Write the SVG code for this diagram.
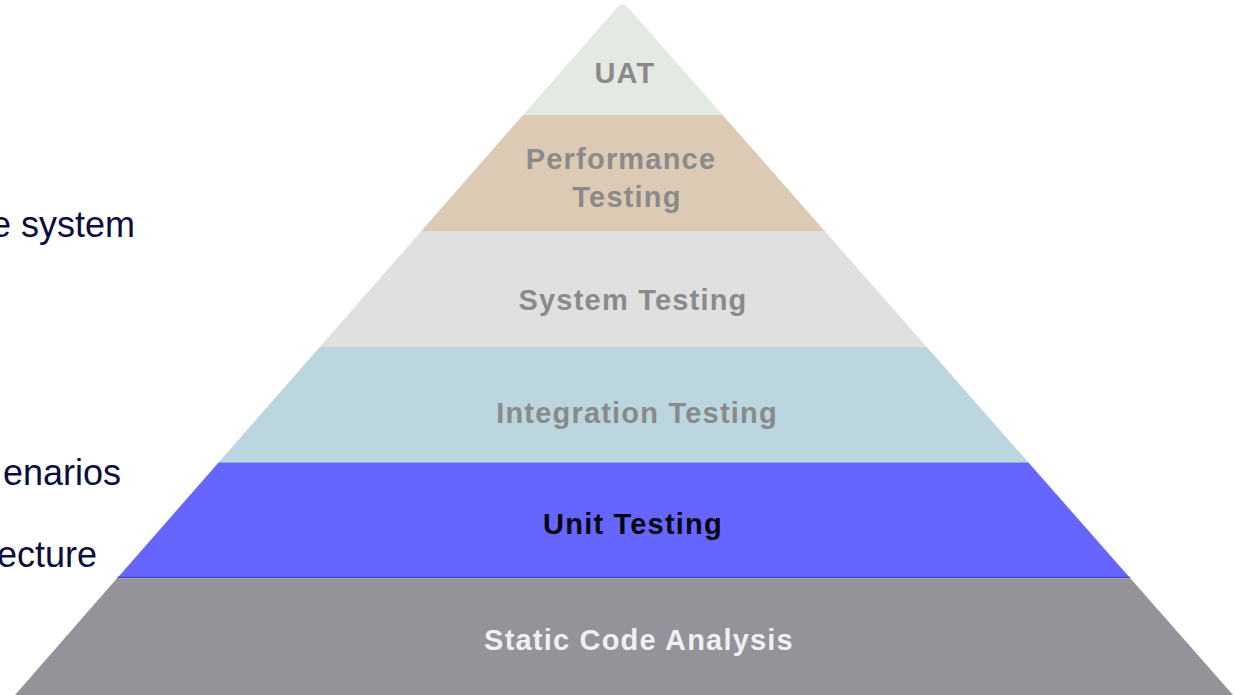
<svg xmlns="http://www.w3.org/2000/svg" width="1235" height="695" viewBox="0 0 1235 695">
  <style>
    .lbl { font-family: "Liberation Sans", Arial, sans-serif; font-weight: bold; font-size: 29px; letter-spacing: 1.2px; text-anchor: middle; }
    .gray { fill: #8a8a8a; }
    .side { font-family: "Liberation Sans", Arial, sans-serif; font-size: 36px; fill: #0c0c3e; text-anchor: end; }
  </style>
  <rect width="1235" height="695" fill="#ffffff"/>
  <g id="side-text">
    <text class="side" x="135" y="237">e system</text>
    <text class="side" x="121" y="485">enarios</text>
    <text class="side" x="97" y="567">ecture</text>
  </g>
  <g id="uat">
    <path d="M523,115 L617.6,7 Q622.6,1.3 627.6,7 L722.6,115 Z" fill="#e4e9e1"/>
    <text class="lbl gray" x="625" y="83">UAT</text>
  </g>
  <g id="performance">
    <polygon points="523,115 722.6,115 824.7,231 421.4,231" fill="#dccab5"/>
    <text class="lbl gray" x="621" y="169">Performance</text>
    <text class="lbl gray" x="627" y="207">Testing</text>
  </g>
  <g id="system">
    <polygon points="421.4,231 824.7,231 926.8,347 319.8,347" fill="#e0e0e0"/>
    <text class="lbl gray" x="633" y="310">System Testing</text>
  </g>
  <g id="integration">
    <polygon points="319.8,347 926.8,347 1028,462 219,462" fill="#bbd6de"/>
    <text class="lbl gray" x="637" y="423">Integration Testing</text>
  </g>
  <g id="unit">
    <polygon points="219,462 1028,462 1130.1,578 117.4,578" fill="#6666ff"/>
    <line x1="219" y1="462.5" x2="1028" y2="462.5" stroke="#8aa8ea" stroke-width="1"/>
    <line x1="117.4" y1="577.5" x2="1130.1" y2="577.5" stroke="#4545c0" stroke-width="1.5"/>
    <text class="lbl" fill="#050510" x="633" y="534">Unit Testing</text>
  </g>
  <g id="static">
    <polygon points="117,578.3 1130.3,578.3 1233,695 15,695" fill="#939399"/>
    <text class="lbl" fill="#f0f0f0" x="639" y="650">Static Code Analysis</text>
  </g>
  <g id="connectors"></g>
</svg>
